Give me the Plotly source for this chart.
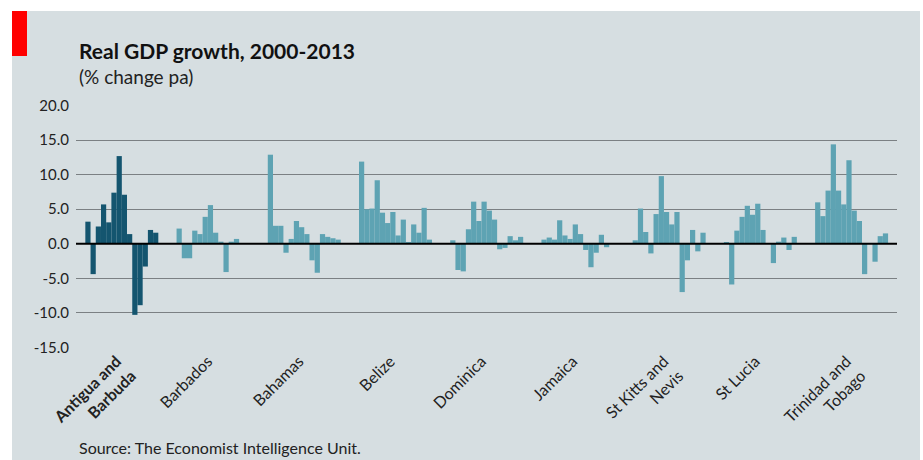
import plotly.graph_objects as go

countries = ["Antigua and Barbuda", "Barbados", "Bahamas", "Belize", "Dominica",
             "Jamaica", "St Kitts and Nevis", "St Lucia", "Trinidad and Tobago"]
tick_labels = ["<b>Antigua and<br>Barbuda</b>", "Barbados", "Bahamas", "Belize", "Dominica",
               "Jamaica", "St Kitts and<br>Nevis", "St Lucia", "Trinidad and<br>Tobago"]
years = list(range(2000, 2014))

antigua = [3.2, -4.4, 2.5, 5.7, 3.1, 7.4, 12.7, 7.1, 1.4, -10.3, -8.9, -3.3, 2.0, 1.6]
barbados = [2.2, -2.1, -2.1, 1.9, 1.4, 3.9, 5.6, 1.6, 0.3, -4.1, 0.3, 0.7, 0.0, 0.1]
bahamas = [12.9, 2.6, 2.6, -1.3, 0.7, 3.3, 2.4, 1.4, -2.4, -4.2, 1.4, 1.0, 0.8, 0.6]
belize = [11.9, 5.0, 5.1, 9.2, 4.5, 3.0, 4.6, 1.2, 3.5, 0.2, 2.8, 1.6, 5.2, 0.6]
dominica = [0.5, -3.8, -4.0, 2.1, 6.1, 3.3, 6.1, 4.8, 3.5, -0.8, -0.6, 1.1, 0.5, 1.0]
jamaica = [0.6, 0.9, 0.6, 3.4, 1.2, 0.7, 2.8, 1.4, -0.9, -3.4, -1.3, 1.3, -0.5, 0.1]
stkitts = [0.5, 5.1, 1.7, -1.4, 4.3, 9.8, 4.6, 2.8, 4.6, -7.0, -2.4, 2.0, -1.1, 1.6]
stlucia = [0.2, -5.9, 1.9, 3.9, 5.5, 4.2, 5.8, 2.0, 0.1, -2.8, 0.3, 0.9, -0.9, 1.0]
trinidad = [6.0, 4.0, 7.7, 14.4, 7.7, 5.7, 12.1, 4.8, 3.3, -4.4, 0.1, -2.6, 1.1, 1.5]

series = [antigua, barbados, bahamas, belize, dominica, jamaica, stkitts, stlucia, trinidad]
y_ticks = [20, 15, 10, 5, 0, -5, -10, -15]

GROUP = 17.5
DARK = "#14556f"
LIGHT = "#5ea3b3"
BG = "#d6dee1"
FONT = "Lato"

fig = go.Figure()
for gi, (name, vals) in enumerate(zip(countries, series)):
    fig.add_trace(go.Bar(
        x=[gi * GROUP + j for j in range(len(years))],
        y=vals,
        width=1.0,
        name=name,
        customdata=years,
        marker=dict(color=DARK if gi == 0 else LIGHT, line=dict(width=0)),
        hovertemplate=name + " %{customdata}: %{y:.1f}%<extra></extra>",
        showlegend=False,
    ))

fig.update_layout(
    width=923, height=460,
    margin=dict(l=76, r=26, t=105, b=112),
    paper_bgcolor="white",
    plot_bgcolor="rgba(0,0,0,0)",
    barmode="overlay",
    font=dict(family=FONT, color="#222222"),
    xaxis=dict(
        range=[-2.29, 9 * GROUP - 2.29],
        tickmode="array",
        tickvals=[gi * GROUP + 5.5 for gi in range(len(countries))],
        ticktext=tick_labels,
        tickangle=-45,
        tickfont=dict(size=16, family=FONT, color="#222222"),
        showgrid=False, zeroline=False, showline=False, ticks="",
    ),
    yaxis=dict(
        range=[-15.1, 20.1],
        tickmode="array",
        tickvals=y_ticks,
        ticktext=[f"{v:.1f}" for v in y_ticks],
        tickfont=dict(size=15, family=FONT, color="#222222"),
        showgrid=True, gridcolor="#7b8083", gridwidth=1,
        zeroline=False, showline=False, ticks="",
        ticklabelstandoff=6,
    ),
    shapes=[
        dict(type="rect", xref="paper", yref="paper", layer="below",
             x0=(12 - 76) / 821, x1=(920 - 76) / 821,
             y0=(348 - 460) / 243, y1=(348 - 11) / 243,
             fillcolor=BG, line=dict(width=0)),
        dict(type="rect", xref="paper", yref="paper", layer="above",
             x0=(12 - 76) / 821, x1=(27 - 76) / 821,
             y0=(348 - 56) / 243, y1=(348 - 11) / 243,
             fillcolor="#ff0000", line=dict(width=0)),
        dict(type="line", xref="paper", yref="y", layer="above",
             x0=0, x1=1, y0=0, y1=0, line=dict(color="black", width=2)),
    ],
    annotations=[
        dict(text="<b>Real GDP growth, 2000-2013</b>", xref="paper", yref="paper",
             x=(77 - 76) / 821, y=(348 - 50) / 243, xanchor="left", yanchor="middle",
             showarrow=False, font=dict(size=21, family=FONT, color="#111111")),
        dict(text="(% change pa)", xref="paper", yref="paper",
             x=(77 - 76) / 821, y=(348 - 76) / 243, xanchor="left", yanchor="middle",
             showarrow=False, font=dict(size=19, family=FONT, color="#222222")),
        dict(text="Source: The Economist Intelligence Unit.", xref="paper", yref="paper",
             x=(77 - 76) / 821, y=(348 - 447) / 243, xanchor="left", yanchor="middle",
             showarrow=False, font=dict(size=16, family=FONT, color="#222222")),
    ],
)

fig.write_html("out.html")
